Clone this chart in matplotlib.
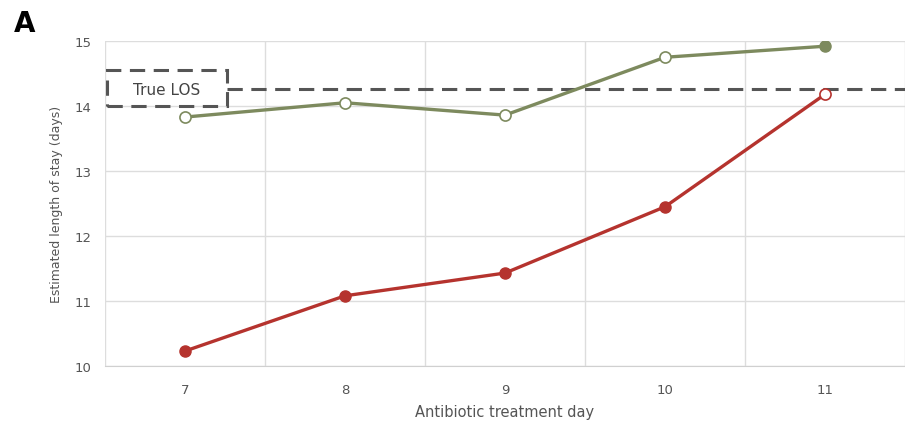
import matplotlib.pyplot as plt
from matplotlib.patches import Rectangle

days = ['7', '8', '9', '10', '11']
green_los = [13.83, 14.05, 13.86, 14.75, 14.92]
red_los = [10.23, 11.08, 11.43, 12.45, 14.18]
true_los = 14.26
y_ticks = [10, 11, 12, 13, 14, 15]

green = '#7d8a5e'
red = '#b5332e'
txt = '#555555'

fig = plt.figure(figsize=(9.05, 4.31), dpi=100)
ax = fig.add_axes([0.116, 0.1485, 0.884, 0.754])

x = list(range(len(days)))

# green series: open markers except the last one
ax.plot(x, green_los, color=green, lw=2.4, zorder=3)
ax.plot(x[:-1], green_los[:-1], 'o', ms=8, mfc='white', mec=green, mew=1.2, zorder=4)
ax.plot(x[-1:], green_los[-1:], 'o', ms=8, mfc=green, mec=green, zorder=4)

# red series: filled markers except the last one
ax.plot(x, red_los, color=red, lw=2.4, zorder=3)
ax.plot(x[:-1], red_los[:-1], 'o', ms=8, mfc=red, mec=red, zorder=4)
ax.plot(x[-1:], red_los[-1:], 'o', ms=8, mfc='white', mec=red, mew=1.2, zorder=4)

# true LOS reference line and label box
ax.plot([0.26, 4.6], [true_los, true_los], color='#555555', lw=2.2,
        ls=(0, (5, 2.8)), zorder=2, clip_on=False)
box = Rectangle((-0.49, 14.0), 0.75, 0.55, fill=False, ec='#555555', lw=2.2,
                ls=(0, (5, 2.8)), zorder=5, clip_on=False)
ax.add_patch(box)
ax.text(-0.115, 14.26, 'True LOS', ha='center', va='center', fontsize=11,
        color='#444444', zorder=6)

ax.set_xlim(-0.5, 4.466)
ax.set_ylim(10, 15)
ax.set_xticks(x)
ax.set_xticklabels(days)
ax.set_yticks(y_ticks)
ax.set_xticks([i - 0.5 for i in range(len(days) + 1)], minor=True)
ax.grid(axis='y', color='#dddddd', lw=1)
ax.grid(axis='x', which='minor', color='#dddddd', lw=1)
ax.tick_params(axis='both', which='both', length=0, labelsize=9.5, colors=txt, pad=12)
ax.tick_params(axis='y', pad=10)
for side in ['top', 'right', 'left']:
    ax.spines[side].set_visible(False)
ax.spines['bottom'].set_color('#d0d0d0')
ax.set_axisbelow(True)

ax.set_xlabel('Antibiotic treatment day', fontsize=10.5, color=txt, labelpad=6)
ax.set_ylabel('Estimated length of stay (days)', fontsize=9, color=txt, labelpad=8)

fig.text(0.015, 0.925, 'A', fontsize=20, fontweight='bold', color='black')

fig.savefig('out.png', dpi=100)
